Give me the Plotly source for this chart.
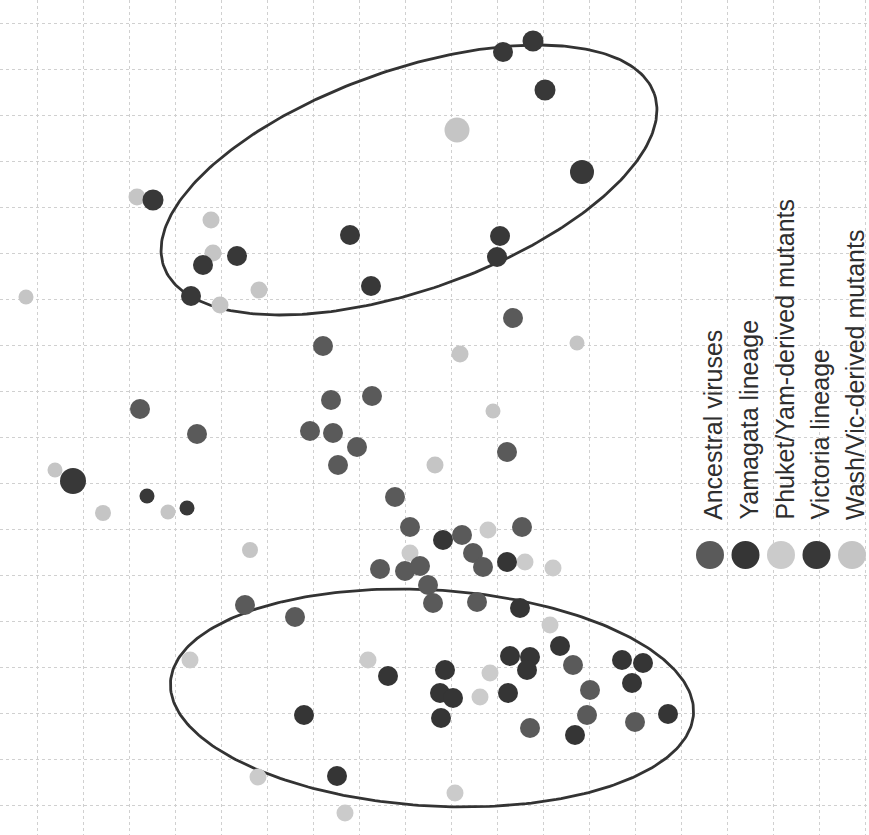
import numpy as np
import plotly.graph_objects as go

# ---- data (antigenic map units) ----
groups = ["Ancestral viruses", "Yamagata lineage", "Phuket/Yam-derived mutants",
          "Victoria lineage", "Wash/Vic-derived mutants"]

anc_x = [32.3, 33.1, 37.2, 14.0, 19.7, 51.3, 31.0, 33.3, 35.7, 33.8, 50.7, 39.5, 41.0, 46.2, 47.3,
         48.3, 52.2, 38.0, 40.5, 42.0, 42.8, 43.3, 47.7, 24.5, 29.5, 57.3, 59.0, 53.0, 58.7, 63.5]
anc_y = [48.9, 43.5, 43.9, 42.6, 40.1, 51.7, 40.4, 40.2, 38.8, 37.0, 38.3, 33.8, 30.8, 30.0, 28.2,
         26.8, 30.8, 26.6, 26.4, 26.9, 25.0, 23.2, 23.3, 23.0, 21.8, 17.0, 14.5, 10.7, 12.0, 11.3]

yam_x = [44.3, 50.7, 52.0, 56.0, 51.0, 53.0, 52.7, 44.5, 44.0, 45.3, 44.1, 50.8, 57.5, 62.2, 64.3,
         63.2, 66.8, 38.8, 30.4, 33.7]
yam_y = [29.5, 27.3, 22.7, 18.9, 17.9, 17.8, 16.5, 16.5, 14.2, 13.7, 11.7, 14.2, 10.0, 17.5, 17.2,
         15.2, 12.1, 15.9, 12.0, 5.9]

phk_x = [41.0, 48.8, 52.5, 55.3, 55.0, 49.0, 48.0, 19.0, 36.8, 25.8, 34.5, 45.5]
phk_y = [28.2, 30.5, 27.3, 26.7, 21.0, 16.2, 13.8, 17.5, 17.5, 5.8, 2.2, 4.2]

vic_x = [15.3, 20.3, 23.7, 19.1, 35.0, 37.1, 50.3, 53.3, 54.5, 58.2, 50.0, 49.7, 7.3, 14.7, 18.7]
vic_y = [63.5, 57.0, 57.9, 53.9, 60.0, 54.9, 78.3, 79.4, 74.5, 66.3, 59.9, 57.8, 35.4, 33.9, 32.7]

wsh_x = [13.7, 21.1, 21.3, 25.9, 22.0, 2.6, 45.7, 46.0, 57.7, 49.3, 5.5, 10.3, 16.8, 25.0, 43.5]
wsh_y = [63.8, 61.5, 58.2, 54.5, 53.0, 53.8, 70.5, 48.1, 49.2, 42.4, 36.5, 32.2, 32.3, 28.5, 37.0]

# ellipse parameters: center x, center y, semi-major, semi-minor, angle (deg)
ellipses = [(40.9, 65.5, 26.0, 11.0, 19.4), (43.2, 13.7, 26.2, 10.8, -3.5)]

# ---- styles ----
colors = ["#5a5a5a", "#353535", "#cbcbcb", "#383838", "#c5c5c5"]
vic_size = [21, 20, 20, 20, 20, 20, 20, 21, 21, 24, 20, 20, 26, 15, 15]
wsh_size = [17, 17, 17, 17, 17, 15, 25, 17, 15, 15, 15, 16, 15, 16, 17]

W, H = 869, 835
fig = go.Figure()

# ellipses drawn through the data axes
t = np.linspace(0, 2 * np.pi, 300)
for cx, cy, a, b, ang in ellipses:
    th = np.deg2rad(ang)
    ex = cx + a * np.cos(t) * np.cos(th) - b * np.sin(t) * np.sin(th)
    ey = cy + a * np.cos(t) * np.sin(th) + b * np.sin(t) * np.cos(th)
    fig.add_trace(go.Scatter(x=ex, y=ey, mode="lines", line=dict(color="#333333", width=2.8),
                             hoverinfo="skip", showlegend=False))

series = [
    (phk_x, phk_y, colors[2], 17),
    (wsh_x, wsh_y, colors[4], wsh_size),
    (anc_x, anc_y, colors[0], 20),
    (yam_x, yam_y, colors[1], 20),
    (vic_x, vic_y, colors[3], vic_size),
]
for (xs, ys, c, s), name in zip(series, [groups[2], groups[4], groups[0], groups[1], groups[3]]):
    fig.add_trace(go.Scatter(x=xs, y=ys, mode="markers", name=name, showlegend=False,
                             marker=dict(color=c, size=s, opacity=1, line=dict(width=0))))

# legend: rotated text with circle keys (paper coordinates)
for i, (name, c) in enumerate(zip(groups, colors)):
    px = 710 + 35.5 * i
    py = 555
    r = 14
    fig.add_shape(type="circle", xref="paper", yref="paper",
                  x0=(px - r) / W, x1=(px + r) / W, y0=1 - (py + r) / H, y1=1 - (py - r) / H,
                  fillcolor=c, line=dict(width=0))
    fig.add_annotation(x=(px + 3) / W, y=1 - 522 / H, xref="paper", yref="paper",
                       text=name, textangle=-90, showarrow=False,
                       xanchor="center", yanchor="bottom",
                       font=dict(family="Liberation Sans, Arial", size=25, color="#2e2e2e"))

grid = dict(showgrid=True, gridcolor="#d0d0d0", griddash="dot", gridwidth=1,
            zeroline=False, showticklabels=False, ticks="", showline=False, dtick=4.6)
fig.update_xaxes(range=[0, 86.9], tick0=3.7, **grid)
fig.update_yaxes(range=[0, 83.5], tick0=3.0, **grid)
fig.update_layout(width=W, height=H, margin=dict(l=0, r=0, t=0, b=0),
                  plot_bgcolor="white", paper_bgcolor="white", showlegend=False)

fig.write_html("out.html", config={"displayModeBar": False},
               post_script="document.body.style.margin='0';document.body.style.overflow='hidden';")
